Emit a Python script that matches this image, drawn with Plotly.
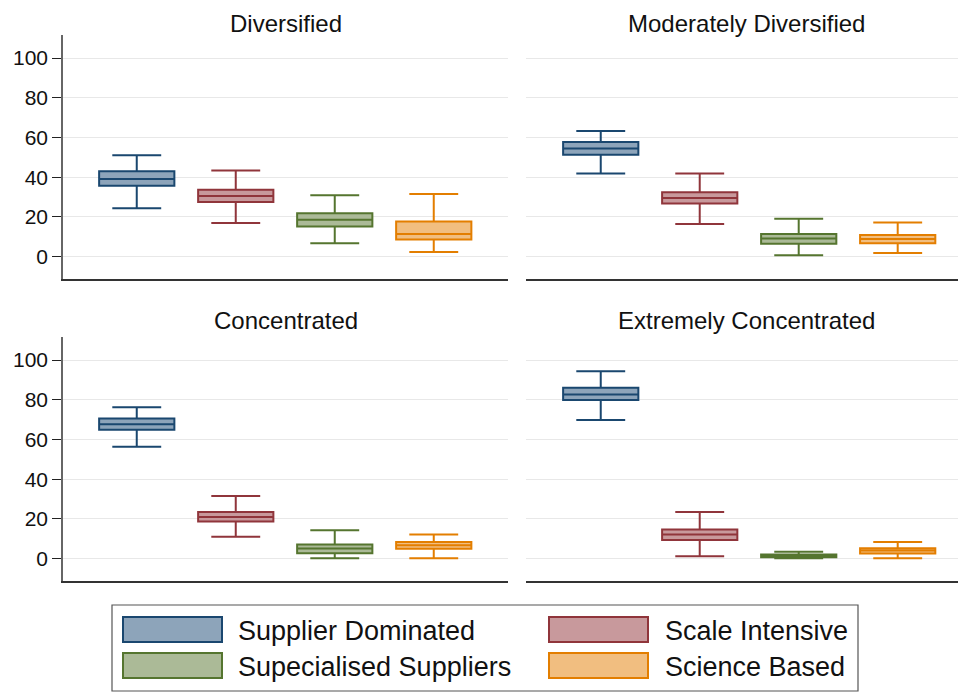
import plotly.graph_objects as go

# panels and sectors
groups = ["Diversified", "Moderately Diversified", "Concentrated", "Extremely Concentrated"]
sectors = ["Supplier Dominated", "Scale Intensive", "Supecialised Suppliers", "Science Based"]

# box statistics per sector, one value per panel (in groups order)
sd_low = [24.3, 41.8, 56.3, 69.8]
sd_q1 = [35.7, 51.3, 64.9, 79.9]
sd_med = [39.1, 54.4, 67.6, 82.6]
sd_q3 = [43.0, 57.7, 70.5, 86.0]
sd_high = [51.0, 63.3, 76.2, 94.3]

si_low = [16.9, 16.4, 11.0, 1.2]
si_q1 = [27.5, 26.7, 18.7, 9.3]
si_med = [30.5, 29.5, 20.9, 12.1]
si_q3 = [33.7, 32.4, 23.4, 14.7]
si_high = [43.3, 41.8, 31.5, 23.4]

ss_low = [6.7, 0.7, 0.2, 0.1]
ss_q1 = [15.1, 6.4, 2.7, 0.6]
ss_med = [18.6, 9.1, 5.1, 1.3]
ss_q3 = [21.8, 11.4, 7.1, 2.0]
ss_high = [30.9, 19.1, 14.2, 3.4]

sb_low = [2.3, 1.8, 0.2, 0.2]
sb_q1 = [8.6, 6.7, 4.9, 2.5]
sb_med = [11.4, 8.9, 6.7, 4.0]
sb_q3 = [17.6, 10.9, 8.3, 5.2]
sb_high = [31.5, 17.1, 12.1, 8.4]

y_ticks = [0, 20, 40, 60, 80, 100]

stats = {
    "Supplier Dominated": (sd_low, sd_q1, sd_med, sd_q3, sd_high),
    "Scale Intensive": (si_low, si_q1, si_med, si_q3, si_high),
    "Supecialised Suppliers": (ss_low, ss_q1, ss_med, ss_q3, ss_high),
    "Science Based": (sb_low, sb_q1, sb_med, sb_q3, sb_high),
}
line_colors = {
    "Supplier Dominated": "#1a476f",
    "Scale Intensive": "#90353b",
    "Supecialised Suppliers": "#55752f",
    "Science Based": "#e37e00",
}
fill_colors = {
    "Supplier Dominated": "#8da4ba",
    "Scale Intensive": "#c8999c",
    "Supecialised Suppliers": "#abba97",
    "Science Based": "#f1be80",
}

# the page body has an 8px margin, so the figure is shifted by that much
OFF = 8
W, H = 966 - OFF, 694 - OFF
FONT = "Liberation Sans, Arial, sans-serif"


def px(x):
    return (x - OFF) / W


def py(y):
    return 1 - (y - OFF) / H


fig = go.Figure()

# page-pixel boxes of the four panels: (left, right, top, bottom)
panels = [(63, 508, 35, 279), (526, 966, 35, 279), (63, 508, 337, 581), (526, 966, 337, 581)]
x_ranges = [[-0.745, 3.75], [-0.755, 3.69], [-0.745, 3.75], [-0.755, 3.69]]

for i, g in enumerate(groups):
    sfx = "" if i == 0 else str(i + 1)
    for s in sectors:
        lo, q1, med, q3, hi = stats[s]
        fig.add_trace(go.Box(
            x=[s], q1=[q1[i]], median=[med[i]], q3=[q3[i]],
            lowerfence=[lo[i]], upperfence=[hi[i]],
            name=s, showlegend=False, boxpoints=False,
            width=0.76, whiskerwidth=0.65,
            line=dict(color=line_colors[s], width=2),
            fillcolor=fill_colors[s],
            xaxis="x" + sfx, yaxis="y" + sfx,
        ))

    l, r, t, b = panels[i]
    left = i % 2 == 0
    fig.layout["xaxis" + sfx] = dict(
        domain=[px(l), min(px(r), 1)], anchor="y" + sfx,
        type="category", categoryarray=sectors, range=x_ranges[i],
        showticklabels=False, ticks="", showgrid=False, zeroline=False,
        showline=True, linecolor="#333333", linewidth=1.6,
    )
    fig.layout["yaxis" + sfx] = dict(
        domain=[py(b), py(t)], anchor="x" + sfx,
        range=[-11.3, 111.6], tickvals=y_ticks,
        showticklabels=left, ticks="outside" if left else "",
        ticklen=9, tickwidth=1.3, tickcolor="#222222",
        tickfont=dict(size=21, color="#111111", family=FONT),
        showgrid=True, gridcolor="#e8e8e8", gridwidth=1.3, zeroline=False,
        showline=left, linecolor="#666666", linewidth=1.5,
    )
    # panel title; top row sits right against the top edge
    if i < 2:
        ty, anchor = 1.0, "top"
    else:
        ty, anchor = py(t - 17), "middle"
    fig.add_annotation(
        text=g, x=px((l + r) / 2), y=ty, xref="paper", yref="paper",
        showarrow=False, xanchor="center", yanchor=anchor,
        font=dict(size=24, color="#111111", family=FONT),
    )

# legend box drawn by hand (two columns, wide swatches)
fig.add_shape(type="rect", xref="paper", yref="paper",
              x0=px(112), x1=px(858), y0=py(691), y1=py(605),
              line=dict(color="#555555", width=1.2), fillcolor="white")
legend_slots = [(123, 617, 236), (549, 617, 663), (123, 653, 236), (549, 653, 663)]
legend_order = ["Supplier Dominated", "Scale Intensive", "Supecialised Suppliers", "Science Based"]
for s, (sx, sy, tx) in zip(legend_order, legend_slots):
    fig.add_shape(type="rect", xref="paper", yref="paper",
                  x0=px(sx), x1=px(sx + 99), y0=py(sy + 25), y1=py(sy),
                  line=dict(color=line_colors[s], width=2), fillcolor=fill_colors[s])
    fig.add_annotation(
        text=s, x=px(tx), y=py(sy + 14), xref="paper", yref="paper",
        showarrow=False, xanchor="left", yanchor="middle",
        font=dict(size=27, color="#111111", family=FONT),
    )

fig.update_layout(
    width=W, height=H,
    margin=dict(l=0, r=0, t=0, b=0),
    paper_bgcolor="white", plot_bgcolor="white",
    boxmode="overlay",
)

fig.write_html("out.html")
